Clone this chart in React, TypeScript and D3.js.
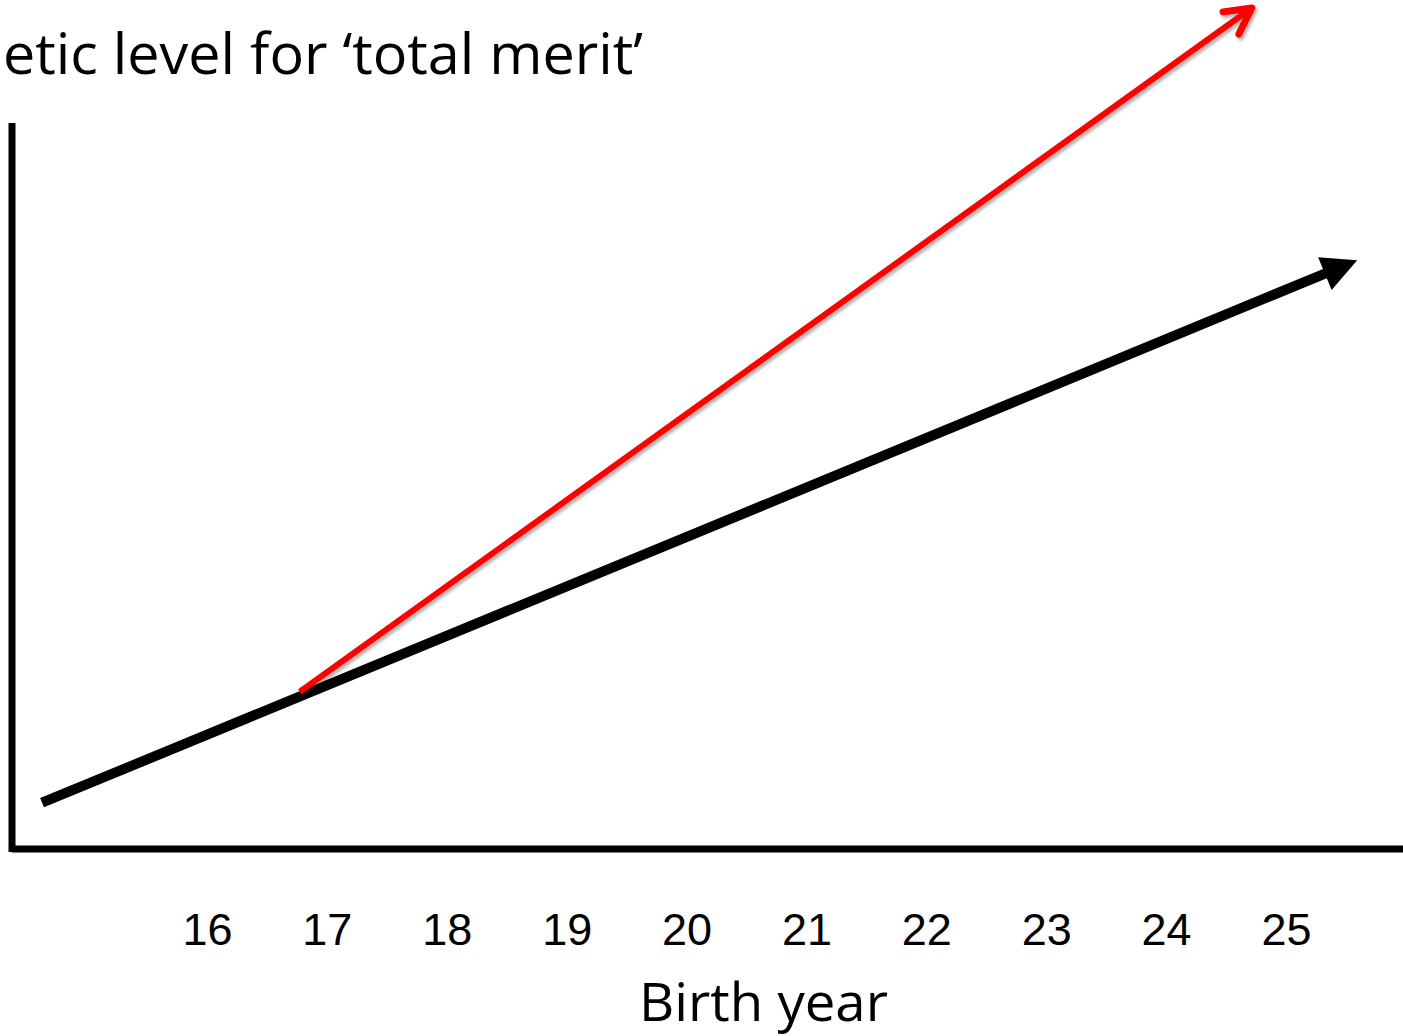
import React from "react";
import * as d3 from "d3";

// birth years shown under the x axis
const years = [16, 17, 18, 19, 20, 21, 22, 23, 24, 25];

// genetic level trends (start and arrow tip)
const currentTrend = [
  { year: 14.62, level: 5.5 },
  { year: 25.59, level: 70.0 },
];
const fasterTrend = [
  { year: 16.77, level: 18.7 },
  { year: 24.71, level: 100.0 },
];

const titleText = "etic level for \u2018total merit\u2019";
const xLabel = "Birth year";

const W = 1403;
const H = 1036;

export default function App() {
  const x = d3.scaleLinear().domain([16, 25]).range([207.5, 1286.5]);
  const y = d3.scaleLinear().domain([0, 100]).range([849, 8]);

  // plot frame
  const axisLeft = 12;
  const axisBottom = 849;
  const axisTop = 123;

  const pts = (data: { year: number; level: number }[]) =>
    data.map((d) => [x(d.year), y(d.level)] as [number, number]);

  // black: thick shaft + solid triangle head
  const [b0, b1] = pts(currentTrend);
  const bLen = Math.hypot(b1[0] - b0[0], b1[1] - b0[1]);
  const bu = [(b1[0] - b0[0]) / bLen, (b1[1] - b0[1]) / bLen];
  const bn = [-bu[1], bu[0]];
  const headLen = 35;
  const headHalf = 17.7;
  const bBase = [b1[0] - bu[0] * headLen, b1[1] - bu[1] * headLen];
  const bShaftEnd = [b1[0] - bu[0] * (headLen - 4), b1[1] - bu[1] * (headLen - 4)];
  const blackHead = [
    b1,
    [bBase[0] + bn[0] * headHalf, bBase[1] + bn[1] * headHalf],
    [bBase[0] - bn[0] * headHalf, bBase[1] - bn[1] * headHalf],
  ];

  // red: thin shaft + open chevron head
  const [r0, r1] = pts(fasterTrend);
  const ang = Math.atan2(r1[1] - r0[1], r1[0] - r0[0]);
  const wing = 29;
  const spread = (28 * Math.PI) / 180;
  const w1 = [r1[0] - wing * Math.cos(ang - spread), r1[1] - wing * Math.sin(ang - spread)];
  const w2 = [r1[0] - wing * Math.cos(ang + spread), r1[1] - wing * Math.sin(ang + spread)];
  const line = d3.line();

  return (
    <svg
      width={W}
      height={H}
      viewBox={`0 0 ${W} ${H}`}
      style={{ position: "absolute", left: 0, top: 0, background: "#fff" }}
    >
      <defs>
        <filter id="shadow" x="-10%" y="-10%" width="120%" height="120%">
          <feDropShadow dx="2" dy="3" stdDeviation="1.5" floodColor="#000" floodOpacity="0.3" />
        </filter>
      </defs>
      <rect width={W} height={H} fill="#fff" />

      {/* title (cut at left) */}
      <text
        x={3}
        y={74}
        fontFamily="'Open Sans', sans-serif"
        fontSize={57}
        textLength={640}
        lengthAdjust="spacingAndGlyphs"
        fill="#000"
      >
        {titleText}
      </text>

      {/* axes */}
      <line x1={axisLeft} y1={axisTop} x2={axisLeft} y2={axisBottom + 3} stroke="#000" strokeWidth={7} />
      <line x1={axisLeft} y1={axisBottom} x2={W} y2={axisBottom} stroke="#000" strokeWidth={7} />

      {/* tick labels */}
      {years.map((yr) => (
        <text
          key={yr}
          x={x(yr)}
          y={945}
          textAnchor="middle"
          fontFamily="'Liberation Sans', Arial, sans-serif"
          fontSize={45}
          fill="#000"
        >
          {yr}
        </text>
      ))}

      <text
        x={639}
        y={1021}
        fontFamily="'Open Sans', sans-serif"
        fontSize={53}
        textLength={249}
        lengthAdjust="spacingAndGlyphs"
        fill="#000"
      >
        {xLabel}
      </text>

      {/* black trend */}
      <path d={line([b0, bShaftEnd as [number, number]]) || ""} stroke="#000" strokeWidth={10} fill="none" />
      <polygon points={blackHead.map((p) => p.join(",")).join(" ")} fill="#000" />

      {/* red trend */}
      <g filter="url(#shadow)">
        <path d={line([r0, r1]) || ""} stroke="#ff0000" strokeWidth={6} fill="none" />
        <path
          d={line([w1 as [number, number], r1, w2 as [number, number]]) || ""}
          stroke="#ff0000"
          strokeWidth={7}
          strokeLinecap="round"
          strokeLinejoin="round"
          fill="none"
        />
      </g>
    </svg>
  );
}
